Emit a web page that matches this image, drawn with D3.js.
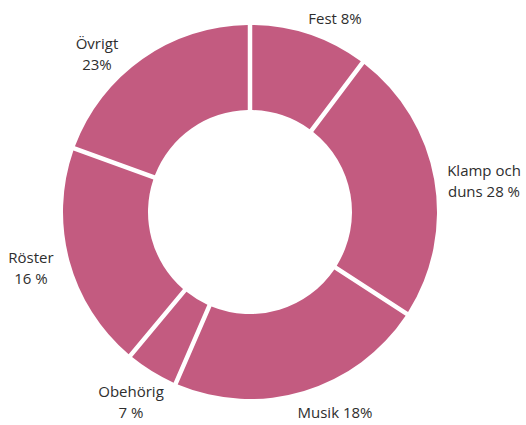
<!DOCTYPE html>
<html>
<head>
<meta charset="utf-8">
<script src="https://cdn.jsdelivr.net/npm/d3@7"></script>
<style>
  html, body { margin: 0; padding: 0; background: #fff; }
  svg text { font-family: "Open Sans", "Noto Sans", sans-serif; fill: #2e2e2e; }
</style>
</head>
<body>
<svg id="chart" width="526" height="425"></svg>
<script>
// Categories in clockwise order from 12 o'clock
const categories = ["Fest", "Klamp och duns", "Musik", "Obehörig", "Röster", "Övrigt"];
// Slice shares as drawn in the picture (percent of the circle)
const sliceShares = [10, 24.2, 22.6, 4.0, 19.6, 19.6];
// Printed labels (two lines where the original wraps)
const labelLine1 = ["Fest 8%", "Klamp och", "Musik 18%", "Obehörig", "Röster", "Övrigt"];
const labelLine2 = ["", "duns 28 %", "", "7 %", "16 %", "23%"];

const W = 526, H = 425;
const cx = 250, cy = 212, rOuter = 187, rInner = 102;
const fill = "#c35b80";

const svg = d3.select("#chart");
const g = svg.append("g").attr("transform", `translate(${cx},${cy})`);

const pie = d3.pie().sort(null).value(d => d).padAngle(0.045);
const arc = d3.arc().innerRadius(rInner).outerRadius(rOuter).padRadius(100);

g.selectAll("path.slice")
  .data(pie(sliceShares))
  .join("path")
  .attr("class", "slice")
  .attr("d", arc)
  .attr("fill", fill);

// Label placement (anchor points in page coordinates)
const labelX = [335, 484, 335, 131, 31, 97];
const labelY = [24, 176, 418, 397, 263, 49];
const lineGap = 21;

const lab = svg.append("g").attr("font-size", 15).attr("text-anchor", "middle");
categories.forEach((c, i) => {
  const t = lab.append("text").attr("x", labelX[i]).attr("y", labelY[i]);
  t.append("tspan").attr("x", labelX[i]).text(labelLine1[i]);
  if (labelLine2[i]) t.append("tspan").attr("x", labelX[i]).attr("dy", lineGap).text(labelLine2[i]);
});
</script>
</body>
</html>
